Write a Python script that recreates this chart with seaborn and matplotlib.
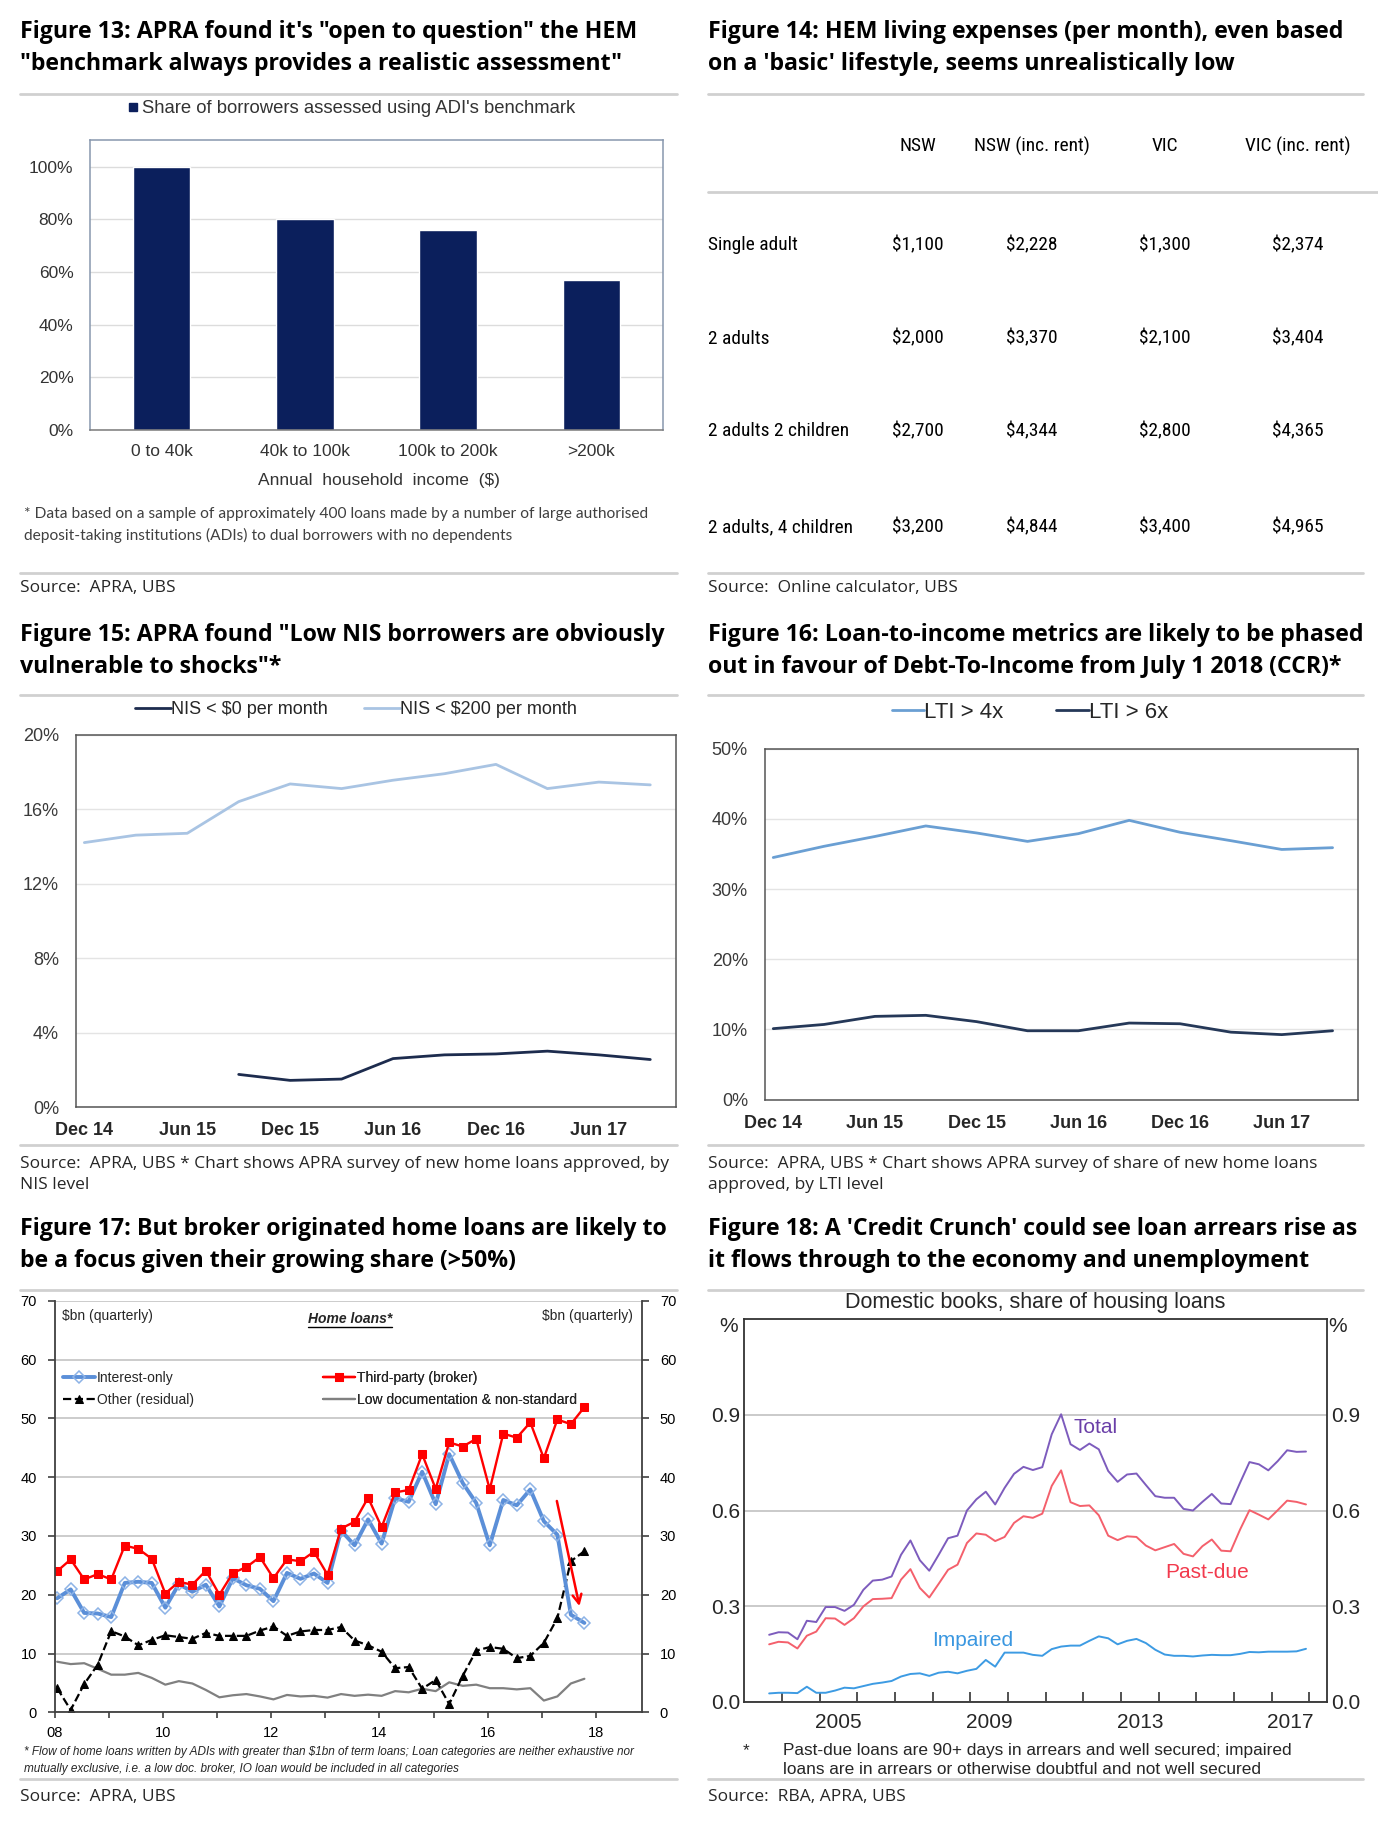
import matplotlib
matplotlib.use('Agg')
import matplotlib.pyplot as plt
from matplotlib import font_manager as fm
from matplotlib.lines import Line2D
import seaborn as sns
import numpy as np
import pandas as pd

# ---------------- data ----------------
income_bands = ['0 to 40k', '40k to 100k', '100k to 200k', '>200k']
share_adi_benchmark = [100, 80, 76, 57]

hem_households = ['Single adult', '2 adults', '2 adults 2 children', '2 adults, 4 children']
hem_columns = ['NSW', 'NSW (inc. rent)', 'VIC', 'VIC (inc. rent)']
hem_nsw = [1100, 2000, 2700, 3200]
hem_nsw_rent = [2228, 3370, 4344, 4844]
hem_vic = [1300, 2100, 2800, 3400]
hem_vic_rent = [2374, 3404, 4365, 4965]

survey_quarters = ['Dec 14', 'Mar 15', 'Jun 15', 'Sep 15', 'Dec 15', 'Mar 16',
                   'Jun 16', 'Sep 16', 'Dec 16', 'Mar 17', 'Jun 17', 'Sep 17']
nis_below_0 = [np.nan, np.nan, np.nan, 1.75, 1.43, 1.5, 2.6, 2.8, 2.85, 3.0, 2.8, 2.55]
nis_below_200 = [14.2, 14.6, 14.7, 16.4, 17.35, 17.1, 17.55, 17.9, 18.4, 17.1, 17.45, 17.3]
lti_over_4 = [34.5, 36.1, 37.5, 39.0, 38.0, 36.8, 37.9, 39.8, 38.1, 36.9, 35.65, 35.9]
lti_over_6 = [10.1, 10.7, 11.85, 12.0, 11.1, 9.8, 9.8, 10.9, 10.8, 9.6, 9.25, 9.8]

broker_quarters = pd.period_range('2008Q1', '2017Q4', freq='Q')
interest_only = [19.4, 20.9, 16.9, 16.8, 16.2, 22.0, 22.2, 22.0, 17.8, 21.8,
                 20.5, 21.7, 18.0, 22.8, 21.6, 21.0, 18.9, 23.7, 22.7, 23.6,
                 22.0, 30.9, 28.4, 32.8, 28.7, 36.4, 35.8, 40.9, 35.4, 43.9,
                 39.0, 35.6, 28.4, 36.1, 35.2, 37.9, 32.5, 30.2, 16.6, 15.2]
third_party = [24.0, 26.0, 22.6, 23.5, 22.6, 28.35, 27.8, 26.1, 20.2, 22.2,
               21.7, 24.1, 20.0, 23.7, 24.7, 26.4, 22.8, 26.0, 25.7, 27.3,
               23.4, 31.25, 32.4, 36.5, 31.5, 37.4, 37.8, 43.9, 38.0, 45.9,
               45.2, 46.5, 37.9, 47.4, 46.7, 49.3, 43.2, 49.8, 49.0, 51.9]
other_residual = [4.1, 0.4, 4.8, 8.1, 13.8, 12.9, 11.4, 12.3, 13.1, 12.8,
                  12.5, 13.5, 13.0, 13.0, 13.0, 13.9, 14.6, 13.0, 13.75, 14.0,
                  14.0, 14.5, 12.2, 11.4, 10.3, 7.5, 7.7, 4.0, 5.5, 1.4,
                  6.2, 10.5, 11.1, 10.8, 9.2, 9.6, 11.8, 16.0, 25.7, 27.4]
low_doc = [8.6, 8.2, 8.35, 7.4, 6.4, 6.4, 6.7, 5.85, 4.7, 5.3,
           4.9, 3.8, 2.55, 2.9, 3.1, 2.7, 2.2, 2.95, 2.7, 2.8,
           2.5, 3.1, 2.8, 3.0, 2.8, 3.6, 3.4, 4.0, 3.6, 5.1,
           4.5, 4.7, 4.1, 4.1, 3.9, 4.1, 2.0, 2.7, 4.9, 5.7]
io_arrow_start = (2017.27, 36.4)
io_arrow_end = (2017.71, 17.6)

arrears_quarters = pd.period_range('2003Q3', '2017Q4', freq='Q')
arrears_total = [0.210, 0.218, 0.217, 0.196, 0.254, 0.250, 0.297, 0.297, 0.285, 0.304,
                 0.351, 0.380, 0.383, 0.393, 0.461, 0.506, 0.444, 0.411, 0.461, 0.513,
                 0.521, 0.600, 0.635, 0.659, 0.619, 0.671, 0.715, 0.737, 0.727, 0.736,
                 0.839, 0.902, 0.808, 0.790, 0.810, 0.792, 0.724, 0.690, 0.713, 0.716,
                 0.680, 0.645, 0.640, 0.640, 0.605, 0.600, 0.627, 0.652, 0.622, 0.620,
                 0.687, 0.752, 0.745, 0.726, 0.755, 0.789, 0.784, 0.785]
arrears_past_due = [0.180, 0.188, 0.186, 0.167, 0.207, 0.220, 0.262, 0.261, 0.241, 0.262,
                    0.299, 0.322, 0.323, 0.325, 0.383, 0.416, 0.357, 0.327, 0.370, 0.414,
                    0.430, 0.498, 0.528, 0.524, 0.504, 0.517, 0.561, 0.582, 0.577, 0.590,
                    0.677, 0.726, 0.626, 0.614, 0.616, 0.585, 0.521, 0.507, 0.519, 0.517,
                    0.490, 0.475, 0.485, 0.495, 0.464, 0.456, 0.488, 0.509, 0.474, 0.472,
                    0.540, 0.601, 0.587, 0.572, 0.601, 0.631, 0.627, 0.619]
arrears_impaired = [0.026, 0.028, 0.028, 0.027, 0.047, 0.028, 0.028, 0.035, 0.044, 0.042,
                    0.049, 0.056, 0.060, 0.065, 0.079, 0.087, 0.089, 0.081, 0.091, 0.094,
                    0.089, 0.097, 0.103, 0.131, 0.110, 0.154, 0.154, 0.154, 0.147, 0.144,
                    0.165, 0.173, 0.176, 0.176, 0.191, 0.205, 0.199, 0.180, 0.191, 0.197,
                    0.184, 0.163, 0.148, 0.144, 0.144, 0.142, 0.145, 0.147, 0.146, 0.146,
                    0.150, 0.156, 0.155, 0.157, 0.157, 0.157, 0.158, 0.166]
# label anchors (year, value)
arrears_labels = [('Total', 2011.73, 0.861), ('Past-due', 2015.28, 0.404), ('Impaired', 2009.05, 0.192)]

# ---------------- page setup ----------------
sns.set_theme(style='white')
plt.rcParams['font.family'] = ['Liberation Sans', 'DejaVu Sans']
W, H = 1378, 1822
fig = plt.figure(figsize=(W / 100, H / 100), dpi=100)
fig.patch.set_facecolor('white')

TITLE_FONT = ['Open Sans', 'DejaVu Sans']
SEP = '#d0d0d0'


def condensed_font():
    """Pick a narrow face if one is installed, else None."""
    names = {f.name for f in fm.fontManager.ttflist}
    for fam in ('Liberation Sans Narrow', 'Roboto Condensed', 'Open Sans Condensed',
                'Noto Sans Condensed', 'DejaVu Sans Condensed'):
        if fam in names:
            return {'family': fam}
    for f in fm.fontManager.ttflist:
        if str(f.stretch) in ('condensed', 'semi-condensed') and f.style == 'normal' \
                and f.weight in (400, 'normal', 'regular'):
            return {'family': f.name, 'stretch': f.stretch}
    return None


COND = condensed_font()
NARROW_OK = COND is not None and COND.get('family') == 'Liberation Sans Narrow'
P17_FONT = {'family': 'Liberation Sans Narrow'} if NARROW_OK else {'family': 'Liberation Sans'}
P17_TXT = 11.5 if NARROW_OK else 10
P17_TICK = 12 if NARROW_OK else 10.5


def px_ax(x0, y0, x1, y1):
    return fig.add_axes([x0 / W, 1 - y1 / H, (x1 - x0) / W, (y1 - y0) / H])


def hline(x0, x1, y, color=SEP, lw=2.0):
    fig.add_artist(Line2D([x0 / W, x1 / W], [1 - y / H, 1 - y / H], color=color, lw=lw))


def ftext(x, y, s, **kw):
    kw.setdefault('va', 'center')
    return fig.text(x / W, 1 - y / H, s, **kw)


def fit_group(texts, ref, target_px):
    r = fig.canvas.get_renderer()
    k = target_px / ref.get_window_extent(r).width
    for t in texts:
        t.set_fontsize(t.get_fontsize() * k)


def decimal_year(periods, offset):
    return np.array([p.year + (p.quarter - 1) / 4 + offset for p in periods])


# ---------------- titles, rules, sources ----------------
title_lines = [
    (20, 31.5, 'Figure 13: APRA found it\'s "open to question" the HEM'),
    (20, 64, '"benchmark always provides a realistic assessment"'),
    (708, 31.5, 'Figure 14: HEM living expenses (per month), even based'),
    (708, 64, "on a 'basic' lifestyle, seems unrealistically low"),
    (20, 635, 'Figure 15: APRA found "Low NIS borrowers are obviously'),
    (20, 667.5, 'vulnerable to shocks"*'),
    (708, 635, 'Figure 16: Loan-to-income metrics are likely to be phased'),
    (708, 667.5, 'out in favour of Debt-To-Income from July 1 2018 (CCR)*'),
    (20, 1229, 'Figure 17: But broker originated home loans are likely to'),
    (20, 1261, 'be a focus given their growing share (>50%)'),
    (708, 1229, "Figure 18: A 'Credit Crunch' could see loan arrears rise as"),
    (708, 1261, 'it flows through to the economy and unemployment'),
]
titles = [ftext(x, y, s, fontsize=16, fontweight='bold', family=TITLE_FONT, color='black')
          for x, y, s in title_lines]
fit_group(titles, titles[0], 620)

source_lines = [
    (20, 588.5, 'Source:  APRA, UBS'),
    (708, 588.5, 'Source:  Online calculator, UBS'),
    (20, 1163.5, 'Source:  APRA, UBS * Chart shows APRA survey of new home loans approved, by'),
    (20, 1184.6, 'NIS level'),
    (708, 1163.5, 'Source:  APRA, UBS * Chart shows APRA survey of share of new home loans'),
    (708, 1184.6, 'approved, by LTI level'),
    (20, 1796.7, 'Source:  APRA, UBS'),
    (708, 1796.7, 'Source:  RBA, APRA, UBS'),
]
sources = [ftext(x, y, s, fontsize=11, family=TITLE_FONT, color='#262626')
           for x, y, s in source_lines]
fit_group(sources, sources[2], 648)

for y in (93.5, 573, 695, 1145.4, 1289.5, 1779):
    hline(20, 677, y)
    hline(708, 1363, y)
hline(708, 1378, 191.5)

# ---------------- Figure 13: bar chart ----------------
navy = '#0b1f5c'
ax13 = px_ax(90.1, 140.4, 662.9, 430)
df13 = pd.DataFrame({'band': income_bands, 'share': share_adi_benchmark})
sns.barplot(data=df13, x='band', y='share', color=navy, saturation=1, width=0.4, ax=ax13)
ax13.set_xlim(-0.5, 3.5)
ax13.set_ylim(0, 110)
ax13.set_yticks(range(0, 101, 20))
ax13.set_yticklabels([f'{v}%' for v in range(0, 101, 20)])
ax13.yaxis.grid(True, color='#dcdcdc', lw=1)
ax13.set_axisbelow(True)
ax13.set_xlabel('')
ax13.set_ylabel('')
for sp in ax13.spines.values():
    sp.set_visible(True)
    sp.set_color('#8797ae')
    sp.set_linewidth(1.1)
ax13.spines['bottom'].set_color('#7a7a7a')
ax13.tick_params(axis='y', length=0, pad=12, labelsize=12.5, labelcolor='#333333')
ax13.tick_params(axis='x', length=0, pad=10, labelsize=12.5, labelcolor='#333333')
ftext(379, 481, 'Annual  household  income  ($)', fontsize=12.5, ha='center', color='#333333')
fig.legend(handles=[Line2D([], [], marker='s', ls='', color=navy, ms=6)],
           labels=["Share of borrowers assessed using ADI's benchmark"],
           loc='center', bbox_to_anchor=(350.5 / W, 1 - 108.8 / H), frameon=False,
           handletextpad=0.1, handlelength=0.8, fontsize=13.3, labelcolor='#333333')
fn13 = [ftext(24.2, 514, '* Data based on a sample of approximately 400 loans made by a number of large authorised',
              fontsize=9.5, family=['Lato', 'DejaVu Sans'], color='#404040'),
        ftext(24.2, 535.4, 'deposit-taking institutions (ADIs) to dual borrowers with no dependents',
              fontsize=9.5, family=['Lato', 'DejaVu Sans'], color='#404040')]
fit_group(fn13, fn13[0], 628)

# ---------------- Figure 14: table ----------------
col_x = [917.6, 1031.9, 1165, 1297.8]
row_y = [245, 338.5, 431.5, 527]
table_kw = dict(COND) if COND else {'family': 'Liberation Sans'}
table_texts = []
for cx, name in zip(col_x, hem_columns):
    table_texts.append(ftext(cx, 146, name, ha='center', fontsize=13.5, color='black', **table_kw))
columns = [hem_nsw, hem_nsw_rent, hem_vic, hem_vic_rent]
for i, (ry, hh) in enumerate(zip(row_y, hem_households)):
    table_texts.append(ftext(708, ry, hh, ha='left', fontsize=13.5, color='black', **table_kw))
    for cx, vals in zip(col_x, columns):
        table_texts.append(ftext(cx, ry, f'${vals[i]:,}', ha='center', fontsize=13.5,
                                 color='black', **table_kw))
if COND:
    fit_group(table_texts, table_texts[1], 116.5)

# ---------------- Figure 15 & 16: survey lines ----------------
q_idx = np.arange(len(survey_quarters))


def survey_axes(box, ymax, ystep, series, colors, labels, leg_xy, leg_fs, leg_hl, leg_cs):
    ax = px_ax(*box)
    for vals, col, lab in zip(series, colors, labels):
        sns.lineplot(x=q_idx, y=vals, color=col, lw=2.0, ax=ax, label=lab, legend=False)
    ax.set_xlim(-0.17, 11.5)
    ax.set_ylim(0, ymax)
    ticks = np.arange(0, ymax + 0.1, ystep)
    ax.set_yticks(ticks)
    ax.set_yticklabels([f'{v:.0f}%' for v in ticks])
    ax.set_xticks(q_idx[::2])
    ax.set_xticklabels(survey_quarters[::2], fontweight='bold')
    ax.yaxis.grid(True, color='#e4e4e4', lw=1)
    for sp in ax.spines.values():
        sp.set_visible(True)
        sp.set_color('#555555')
        sp.set_linewidth(1.1)
    ax.tick_params(axis='y', length=0, pad=12, labelsize=13, labelcolor='#3a3a3a')
    ax.tick_params(axis='x', length=0, pad=11, labelsize=13, labelcolor='#262626')
    h, l = ax.get_legend_handles_labels()
    fig.legend(h, l, loc='center', bbox_to_anchor=(leg_xy[0] / W, 1 - leg_xy[1] / H),
               ncol=2, frameon=False, fontsize=leg_fs, handlelength=leg_hl,
               handletextpad=0.0, columnspacing=leg_cs, labelcolor='#262626')
    return ax


survey_axes((75.6, 734.6, 676, 1107), 20, 4, [nis_below_0, nis_below_200],
            ['#1d2c4e', '#a9c4e3'], ['NIS < $0 per month', 'NIS < $200 per month'],
            (355.6, 709.6), 13, 2.0, 2.0)
survey_axes((764.6, 748.8, 1358, 1099.5), 50, 10, [lti_over_4, lti_over_6],
            ['#6a9fd3', '#253858'], ['LTI > 4x', 'LTI > 6x'],
            (1029.7, 712.3), 16, 1.45, 2.4)

# ---------------- Figure 17: broker home loans ----------------
xb = decimal_year(broker_quarters, 0.04)
ax17 = px_ax(55, 1300.7, 641.7, 1712.3)
sns.lineplot(x=xb, y=low_doc, color='#808080', lw=1.6, ax=ax17, label='Low documentation & non-standard')
sns.lineplot(x=xb, y=other_residual, color='black', lw=1.6, ls='--', marker='^', ms=6,
             mec='black', mfc='black', ax=ax17, label='Other (residual)')
sns.lineplot(x=xb, y=interest_only, color='#5b8fd8', lw=2.8, marker='D', ms=6.5,
             mfc='none', mec='#8db3e6', mew=1.1, ax=ax17, label='Interest-only')
sns.lineplot(x=xb, y=third_party, color='#ff0000', lw=1.7, marker='s', ms=5.5,
             mec='#ff0000', mfc='#ff0000', ax=ax17, label='Third-party (broker)')
ax17.annotate('', xy=io_arrow_end, xytext=io_arrow_start,
              arrowprops=dict(arrowstyle='->', color='#ff0000', lw=1.8, mutation_scale=16))
ax17.set_xlim(2008, 2018.85)
ax17.set_ylim(0, 70)
ax17.set_yticks(range(0, 71, 10))
ax17.set_xticks(range(2008, 2019, 2))
ax17.set_xticklabels([f'{y % 100:02d}' for y in range(2008, 2019, 2)])
ax17.set_xticks(range(2009, 2019, 2), minor=True)
ax17.yaxis.grid(True, color='#c4c4c4', lw=1.2)
ax17.set_axisbelow(True)
ax17.spines['top'].set_visible(False)
for side in ('left', 'right', 'bottom'):
    ax17.spines[side].set_visible(True)
    ax17.spines[side].set_color('#404040')
    ax17.spines[side].set_linewidth(1.3)
ax17.tick_params(axis='y', which='major', direction='out', length=5, width=1.2, color='#404040',
                 left=True, right=True, labelleft=True, labelright=True, pad=8)
ax17.tick_params(axis='x', which='both', direction='out', length=4, width=1.2, color='#404040',
                 bottom=True, pad=6)
for lab in ax17.get_xticklabels() + ax17.get_yticklabels():
    lab.set_fontproperties(fm.FontProperties(size=P17_TICK, **P17_FONT))
    lab.set_color('black')
handles = dict(zip(*ax17.get_legend_handles_labels()[::-1]))
leg_prop = fm.FontProperties(size=P17_TXT, **P17_FONT)
leg_kw = dict(loc='center left', bbox_transform=fig.transFigure, frameon=False,
              handlelength=2.3, handletextpad=0.15, labelspacing=0.55,
              borderpad=0, borderaxespad=0, prop=leg_prop)
for x0, names in ((62.7, ['Interest-only', 'Other (residual)']),
                  (323.3, ['Third-party (broker)', 'Low documentation & non-standard'])):
    lg = ax17.legend([handles[n] for n in names], names,
                     bbox_to_anchor=(x0 / W, 1 - 1388.7 / H), **leg_kw)
    ax17.add_artist(lg)
ftext(61.7, 1316, '$bn (quarterly)', ha='left', fontproperties=fm.FontProperties(size=P17_TXT, **P17_FONT))
ftext(632.7, 1316, '$bn (quarterly)', ha='right', fontproperties=fm.FontProperties(size=P17_TXT, **P17_FONT))
home = ftext(349.7, 1319, 'Home loans*', ha='center',
             fontproperties=fm.FontProperties(size=P17_TXT, weight='bold', style='italic', **P17_FONT))
fn17 = [ftext(24.2, 1751.7, '* Flow of home loans written by ADIs with greater than $1bn of term loans; '
              'Loan categories are neither exhaustive nor', fontsize=9.5, style='italic', **P17_FONT),
        ftext(24.2, 1769, 'mutually exclusive, i.e. a low doc. broker, IO loan would be included in all categories',
              fontsize=9.5, style='italic', **P17_FONT)]
fit_group(fn17, fn17[0], 611)
bb = home.get_window_extent(fig.canvas.get_renderer())
fig.add_artist(Line2D([bb.x0 / W, bb.x1 / W], [(bb.y0 - 1) / H, (bb.y0 - 1) / H], color='black', lw=1.0))

# ---------------- Figure 18: arrears ----------------
xa = decimal_year(arrears_quarters, 0.16)
ax18 = px_ax(744.3, 1319.3, 1326.7, 1701.7)
arrears_colors = {'Total': '#7d5cbd', 'Past-due': '#f4606c', 'Impaired': '#3d9be3'}
label_colors = {'Total': '#6a3fa8', 'Past-due': '#f23a4d', 'Impaired': '#3a97e0'}
for name, vals in (('Total', arrears_total), ('Past-due', arrears_past_due), ('Impaired', arrears_impaired)):
    sns.lineplot(x=xa, y=vals, color=arrears_colors[name], lw=1.4, ax=ax18)
for name, lx, ly in arrears_labels:
    ax18.text(lx, ly, name, color=label_colors[name], fontsize=15,
              ha='left' if name == 'Total' else 'center', va='center')
ax18.set_xlim(2003, 2018.46)
ax18.set_ylim(0, 1.2)
ax18.set_yticks([0, 0.3, 0.6, 0.9])
ax18.set_yticklabels(['0.0', '0.3', '0.6', '0.9'])
ax18.set_xticks([2005.5, 2009.5, 2013.5, 2017.5])
ax18.set_xticklabels(['2005', '2009', '2013', '2017'])
ax18.set_xticks(range(2004, 2019), minor=True)
ax18.yaxis.grid(True, color='#c6c6c6', lw=1.3)
ax18.set_axisbelow(True)
for sp in ax18.spines.values():
    sp.set_visible(True)
    sp.set_color('#333333')
    sp.set_linewidth(1.3)
ax18.tick_params(axis='y', length=0, labelleft=True, labelright=True, pad=3, labelsize=15)
ax18.tick_params(axis='x', which='major', length=0, pad=8, labelsize=15)
ax18.tick_params(axis='x', which='minor', direction='in', length=7, width=1.2, color='#333333', bottom=True)
ftext(729, 1326.7, '%', ha='center', fontsize=15)
ftext(1338, 1326.7, '%', ha='center', fontsize=15)
ftext(1035.5, 1302.7, 'Domestic books, share of housing loans', ha='center', fontsize=15.5)
fn18 = [ftext(745.7, 1751, '*', ha='center', fontsize=11.5),
        ftext(783, 1751, 'Past-due loans are 90+ days in arrears and well secured; impaired', fontsize=11.5),
        ftext(783, 1769, 'loans are in arrears or otherwise doubtful and not well secured', fontsize=11.5)]
fit_group(fn18, fn18[1], 508)

fig.savefig('out.png', dpi=100, facecolor='white')
